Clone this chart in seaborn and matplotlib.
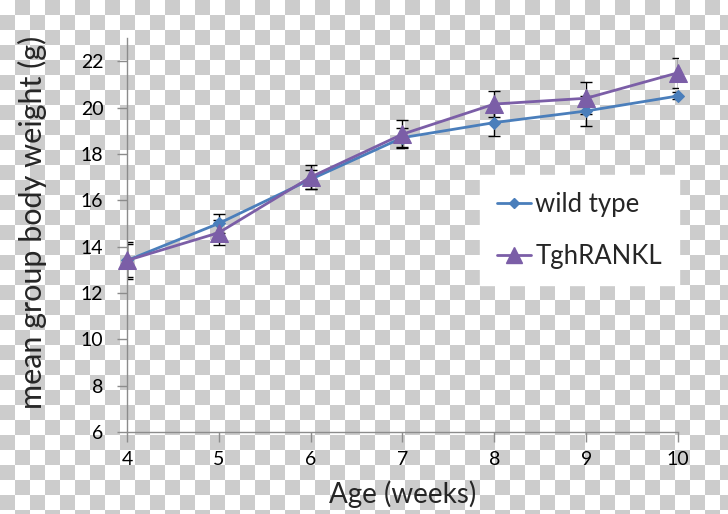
import matplotlib
matplotlib.use("Agg")
import matplotlib.pyplot as plt
import numpy as np
import pandas as pd
import seaborn as sns

# data
age = [4, 5, 6, 7, 8, 9, 10]
wild_type = [13.4, 15.0, 16.9, 18.7, 19.35, 19.85, 20.5]
wild_type_err = [0.7, 0.4, 0.4, 0.4, 0.6, 0.65, 0.15]
tgh_rankl = [13.4, 14.6, 17.0, 18.85, 20.15, 20.4, 21.5]
tgh_rankl_err = [0.8, 0.55, 0.5, 0.6, 0.55, 0.7, 0.65]
yticks = [6, 8, 10, 12, 14, 16, 18, 20, 22]

df = pd.concat([
    pd.DataFrame({"age": age, "weight": wild_type, "err": wild_type_err, "group": "wild type"}),
    pd.DataFrame({"age": age, "weight": tgh_rankl, "err": tgh_rankl_err, "group": "TghRANKL"}),
])

sns.set_style("white")
plt.rcParams["font.family"] = ["Lato", "DejaVu Sans"]

W, H = 728, 514
fig = plt.figure(figsize=(W / 100, H / 100), dpi=100)

# transparency checkerboard behind everything
bg = fig.add_axes([0, 0, 1, 1], zorder=-10)
sq = 15
ny, nx = H // sq + 1, W // sq + 1
board = (np.add.outer(np.arange(ny), np.arange(nx)) % 2).astype(float)
bg.imshow(board, cmap=matplotlib.colors.ListedColormap(["white", "#cccccc"]),
          extent=[0, nx * sq, ny * sq, 0], interpolation="nearest")
bg.set_xlim(0, W)
bg.set_ylim(H, 0)
bg.axis("off")

ax = fig.add_axes([127 / W, 1 - 432 / H, (678 - 127) / W, (432 - 38) / H])
ax.patch.set_alpha(0)

styles = {
    "wild type": dict(color="#4a7ebb", marker="D", ms=6),
    "TghRANKL": dict(color="#7b5ea7", marker="^", ms=13),
}
handles = []
for name in ["wild type", "TghRANKL"]:
    sub = df[df["group"] == name]
    st = styles[name]
    ax.errorbar(sub["age"], sub["weight"], yerr=sub["err"], fmt="none",
                ecolor="black", elinewidth=1, capsize=4, capthick=1, zorder=2)
    sns.lineplot(data=sub, x="age", y="weight", ax=ax, color=st["color"],
                 marker=st["marker"], markersize=st["ms"], markeredgecolor=st["color"],
                 linewidth=2, zorder=3, legend=False, clip_on=False)
    handles.append(matplotlib.lines.Line2D([], [], color=st["color"], marker=st["marker"],
                                           ms=st["ms"] * 0.85, lw=2, label=name))

ax.set_xlim(4, 10)
ax.set_ylim(6, 23)
ax.set_xticks(age)
ax.set_yticks(yticks)
for s in ["top", "right"]:
    ax.spines[s].set_visible(False)
for s in ["left", "bottom"]:
    ax.spines[s].set_color("#8c8c8c")
    ax.spines[s].set_linewidth(1)
ax.tick_params(axis="both", which="major", direction="out", length=7, width=1,
               color="#8c8c8c", labelsize=14, labelcolor="black", pad=10, left=True, bottom=True)
ax.tick_params(axis="x", pad=7)

ax.set_xlabel("Age (weeks)", fontsize=20)
ax.set_ylabel("mean group body weight (g)", fontsize=22)
ax.xaxis.set_label_coords((403 - 127) / (678 - 127), (432 - 480) / (432 - 38))
ax.yaxis.set_label_coords((47 - 127) / (678 - 127), (432 - 222) / (432 - 38))

leg = fig.legend(handles=handles, loc="upper left", bbox_to_anchor=(480 / W, 1 - 175 / H),
                 borderaxespad=0, frameon=True, fontsize=18.5, handlelength=1.35,
                 handletextpad=0.15, labelspacing=1.05, borderpad=0.65, fancybox=False)
leg.get_frame().set_facecolor("white")
leg.get_frame().set_edgecolor("white")
leg.get_frame().set_alpha(1)

fig.savefig("out.png", dpi=100)
